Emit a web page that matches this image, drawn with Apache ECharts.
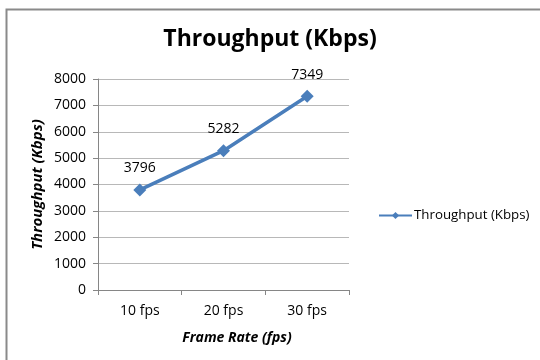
<!DOCTYPE html>
<html>
<head>
<meta charset="utf-8">
<script src="https://cdn.jsdelivr.net/npm/echarts@6/dist/echarts.min.js"></script>
<style>
  html, body { margin: 0; padding: 0; background: #fff; }
  #chart { width: 540px; height: 360px; }
</style>
</head>
<body>
<div id="chart"></div>
<script>
// Throughput measured at each frame rate
const frameRates = ['10 fps', '20 fps', '30 fps'];
const throughput = [3796, 5282, 7349];
const seriesName = 'Throughput (Kbps)';
const yMin = 0, yMax = 8000, yStep = 1000;

const FONT = '"Open Sans", "Liberation Sans", sans-serif';

const chart = echarts.init(document.getElementById('chart'), null, { renderer: 'canvas' });

chart.setOption({
  backgroundColor: '#ffffff',
  animation: false,
  title: {
    text: 'Throughput (Kbps)',
    left: 'center',
    top: 23,
    textStyle: { fontFamily: FONT, fontSize: 23, fontWeight: 'bold', color: '#000' }
  },
  // chart-area frame (only the top and left edges are in view)
  graphic: [{
    type: 'polyline',
    shape: { points: [[6.5, 400], [6.5, 9.5], [600, 9.5]] },
    style: { stroke: '#8a8a8a', lineWidth: 2, fill: null },
    silent: true
  }],
  legend: {
    left: 373,
    top: 204,
    itemWidth: 33,
    itemHeight: 9,
    itemGap: 4,
    textStyle: { fontFamily: FONT, fontSize: 13.3, color: '#000', padding: [0, 0, 0, -3] },
    data: [seriesName]
  },
  grid: { left: 98, right: 191, top: 79, bottom: 70 },
  xAxis: {
    type: 'category',
    data: frameRates,
    boundaryGap: true,
    name: 'Frame Rate (fps)',
    nameLocation: 'middle',
    nameGap: 41,
    nameTextStyle: { fontFamily: FONT, fontSize: 14, fontWeight: 'bold', fontStyle: 'italic', color: '#000', padding: [0, 0, 0, 27] },
    axisLine: { lineStyle: { color: '#868686', width: 1 } },
    axisTick: { show: true, alignWithLabel: false, length: 5, lineStyle: { color: '#868686' } },
    axisLabel: { fontFamily: FONT, fontSize: 14, color: '#000', margin: 14 },
    splitLine: { show: false }
  },
  yAxis: {
    type: 'value',
    min: yMin,
    max: yMax,
    interval: yStep,
    name: 'Throughput (Kbps)',
    nameLocation: 'middle',
    nameGap: 53,
    nameRotate: 90,
    nameTextStyle: { fontFamily: FONT, fontSize: 15, fontWeight: 'bold', fontStyle: 'italic', color: '#000' },
    axisLine: { show: true, lineStyle: { color: '#868686', width: 1 } },
    axisTick: { show: true, length: 5, inside: false, lineStyle: { color: '#868686' } },
    axisLabel: { fontFamily: FONT, fontSize: 14, color: '#000', margin: 12, formatter: v => String(v) },
    splitLine: { show: true, lineStyle: { color: '#b8b8b8', width: 1 } }
  },
  series: [{
    name: seriesName,
    type: 'line',
    data: throughput,
    symbol: 'diamond',
    symbolSize: 13,
    itemStyle: { color: '#4a7ebb' },
    lineStyle: { color: '#4a7ebb', width: 3.5 },
    label: {
      show: true,
      position: 'top',
      distance: 8,
      fontFamily: FONT,
      fontSize: 14,
      color: '#000'
    }
  }]
});
</script>
</body>
</html>
